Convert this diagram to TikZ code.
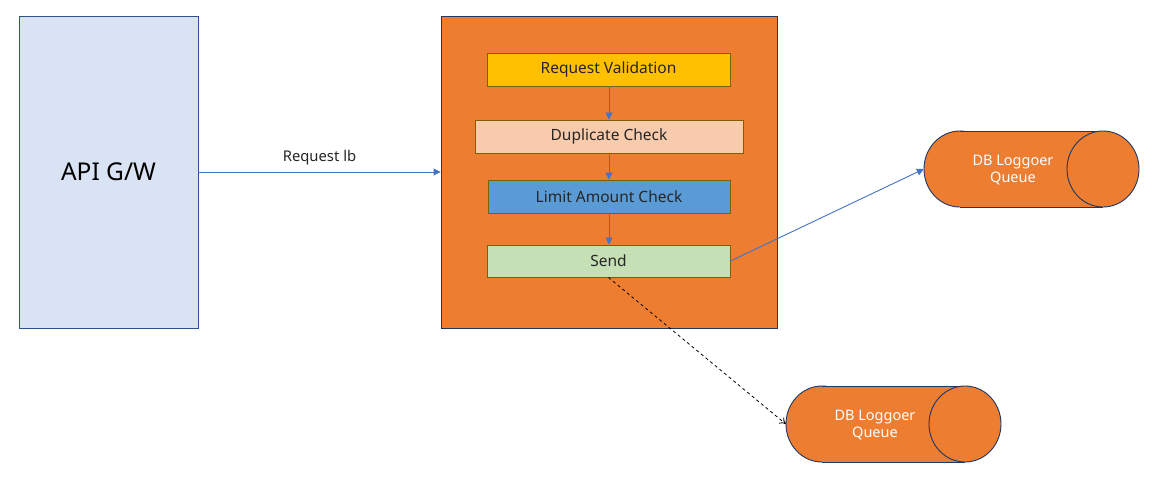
\documentclass[tikz,border=0pt]{standalone}
\usepackage{fontspec}
\setmainfont{Noto Sans}
\usetikzlibrary{arrows.meta}
\definecolor{gwfill}{HTML}{DAE3F3}
\definecolor{gwline}{HTML}{2F528F}
\definecolor{orng}{HTML}{ED7D31}
\definecolor{navy}{HTML}{203864}
\definecolor{yel}{HTML}{FFC000}
\definecolor{peach}{HTML}{F8CBAD}
\definecolor{bluebox}{HTML}{5B9BD5}
\definecolor{greenbox}{HTML}{C5E0B4}
\definecolor{boxline}{HTML}{7F6000}
\definecolor{arr}{HTML}{4472C4}
\tikzset{
  stepbox/.style={draw=boxline, line width=0.9pt, inner sep=0pt, font=\fontsize{15.5}{18}\selectfont, text=black!85},
  flow/.style={draw=arr, line width=0.9pt, -{Triangle[length=7pt,width=7pt]}},
  qtext/.style={font=\fontsize{14.5}{17.5}\selectfont, text=white, align=center},
  cyl/.style={draw=navy, line width=0.9pt, fill=orng}
}
\begin{document}
\begin{tikzpicture}[x=1pt,y=-1pt]
\useasboundingbox (0,0) rectangle (1153,483);
\fill[white] (0,0) rectangle (1153,483);
% API gateway
\node[draw=gwline, fill=gwfill, line width=0.9pt, minimum width=179pt, minimum height=312pt, inner sep=0pt, font=\fontsize{24.5}{28}\selectfont] (gw) at (108.5,172) {API G/W};
% main service box
\node[draw=navy, fill=orng, line width=0.9pt, minimum width=336pt, minimum height=312pt, inner sep=0pt] (svc) at (609,172) {};
% steps
\node[stepbox, fill=yel, minimum width=243pt, minimum height=33pt] (rv) at (608.5,69.5) {Request Validation};
\node[stepbox, fill=peach, minimum width=268pt, minimum height=33pt] (dc) at (609,136.5) {Duplicate Check};
\node[stepbox, fill=bluebox, minimum width=242pt, minimum height=33pt] (la) at (609,196.5) {Limit Amount Check};
\node[stepbox, fill=greenbox, minimum width=243pt, minimum height=32pt] (sd) at (608.5,261) {Send};
\draw[flow] (rv.south -| 609,0) -- (dc.north -| 609,0);
\draw[flow] (dc.south -| 609,0) -- (la.north -| 609,0);
\draw[flow] (la.south -| 609,0) -- (sd.north -| 609,0);
% request arrow
\draw[flow] (gw.east) -- node[above=3pt, font=\fontsize{14.8}{17}\selectfont, text=black!85] {Request lb} (svc.west);
% cylinder 1
\filldraw[cyl] (960,169) ellipse[x radius=36, y radius=38];
\fill[orng] (960,131.5) rectangle (1103,206.5);
\draw[navy, line width=0.9pt] (960,131) -- (1103,131) (960,207) -- (1103,207);
\filldraw[cyl] (1103,169) ellipse[x radius=36, y radius=38];
\node[minimum width=215pt, minimum height=76pt, inner sep=0pt] (q1) at (1031.5,169) {};
\node[qtext] (t1) at (1013,170) {DB Loggoer\\Queue};
% cylinder 2
\filldraw[cyl] (822,424) ellipse[x radius=36, y radius=38];
\fill[orng] (822,386.5) rectangle (965,461.5);
\draw[navy, line width=0.9pt] (822,386) -- (965,386) (822,462) -- (965,462);
\filldraw[cyl] (965,424) ellipse[x radius=36, y radius=38];
\node[minimum width=214pt, minimum height=76pt, inner sep=0pt] (q2) at (893,424) {};
\node[qtext] (t2) at (875,425) {DB Loggoer\\Queue};
% connectors
\draw[flow] (sd.east) -- (q1.west);
\draw[black, line width=0.8pt, dashed, -{To[length=6pt,width=8pt]}] (sd.south) -- (q2.west);
\end{tikzpicture}
\end{document}
